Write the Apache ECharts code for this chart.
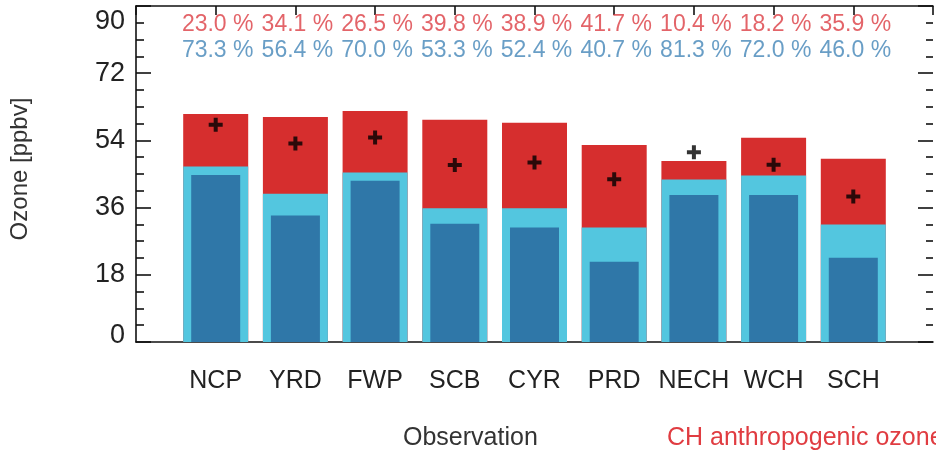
<!DOCTYPE html>
<html>
<head>
<meta charset="utf-8">
<script src="https://cdn.jsdelivr.net/npm/echarts@6/dist/echarts.min.js"></script>
<style>html,body{margin:0;padding:0;background:#fff}#c{width:936px;height:451px}</style>
</head>
<body>
<div id="c"></div>
<script>
// ---- data ----
const categories = ['NCP', 'YRD', 'FWP', 'SCB', 'CYR', 'PRD', 'NECH', 'WCH', 'SCH'];
const totalOzone = [61.1, 60.3, 61.9, 59.5, 58.7, 52.8, 48.5, 54.7, 49.1];      // red bar top
const lightBlue = [47.0, 39.7, 45.4, 35.8, 35.8, 30.7, 43.5, 44.6, 31.5];       // light blue bar top
const darkBlue = [44.7, 33.9, 43.2, 31.7, 30.7, 21.5, 39.4, 39.4, 22.6];        // dark blue bar top
const observation = [58.2, 53.2, 54.8, 47.4, 48.1, 43.6, 50.8, 47.5, 39.0];     // "+" markers
const redPct = [23.0, 34.1, 26.5, 39.8, 38.9, 41.7, 10.4, 18.2, 35.9];
const bluePct = [73.3, 56.4, 70.0, 53.3, 52.4, 40.7, 81.3, 72.0, 46.0];
const yTicks = [0, 18, 36, 54, 72, 90];

// ---- chart ----
const chart = echarts.init(document.getElementById('c'), null, {renderer: 'canvas'});
const FONT = 'Liberation Sans, Arial, Helvetica, sans-serif';
const NARROW = 'Liberation Sans Narrow, Arial Narrow, Liberation Sans, sans-serif';
const RED_ROW = 85.0, BLUE_ROW = 78.0;
const xs = categories.map((c, i) => i + 1);
const pair = arr => arr.map((v, i) => [xs[i], v]);
const plus = 'path://M5,0L9,0L9,5L14,5L14,9L9,9L9,14L5,14L5,9L0,9L0,5L5,5Z';

const axisLineStyle = {color: '#111', width: 1.6};
chart.setOption({
  animation: false,
  backgroundColor: '#fff',
  grid: {left: 135, right: 0, top: 6, bottom: 109, containLabel: false},
  xAxis: [
    {
      type: 'value', position: 'bottom', min: 0, max: 10, interval: 1,
      axisLine: {show: true, lineStyle: axisLineStyle},
      axisTick: {show: false},
      splitLine: {show: false},
      axisLabel: {
        margin: 27, color: '#222', fontSize: 25, fontFamily: FONT,
        formatter: v => (v >= 1 && v <= categories.length) ? categories[v - 1] : ''
      }
    },
    {
      type: 'value', position: 'top', min: 0, max: 10, interval: 1,
      axisLine: {show: true, onZero: false, lineStyle: axisLineStyle},
      axisTick: {show: true, inside: true, length: 9, lineStyle: {color: '#111', width: 1.6}},
      axisLabel: {show: false},
      splitLine: {show: false}
    }
  ],
  yAxis: [
    {
      type: 'value', position: 'left', min: yTicks[0], max: yTicks[yTicks.length - 1], interval: 18,
      name: 'Ozone [ppbv]', nameLocation: 'middle', nameGap: 104,
      nameTextStyle: {fontSize: 24, color: '#333', fontFamily: FONT, padding: [0, 0, 0, 10]},
      axisLine: {show: true, onZero: false, lineStyle: axisLineStyle},
      axisTick: {show: true, inside: true, length: 15, lineStyle: {color: '#111', width: 1.6}},
      minorTick: {show: true, splitNumber: 4, length: 8, lineStyle: {color: '#111', width: 1.6}},
      splitLine: {show: false},
      axisLabel: {
        margin: 11, color: '#222', fontSize: 27, fontFamily: FONT,
        formatter: v => v === 90 ? '{t|90}' : (v === 0 ? '{b|0}' : String(v)),
        rich: {
          t: {padding: [32, 0, 0, 0], fontSize: 27, fontFamily: FONT, color: '#222'},
          b: {padding: [0, 0, 12, 0], fontSize: 27, fontFamily: FONT, color: '#222'}
        }
      }
    },
    {
      type: 'value', position: 'right', min: 0, max: 90, interval: 18,
      axisLine: {show: false, onZero: false, lineStyle: axisLineStyle},
      axisTick: {show: true, inside: true, length: 15, lineStyle: {color: '#111', width: 1.6}},
      minorTick: {show: true, splitNumber: 4, length: 7, lineStyle: {color: '#111', width: 1.6}},
      splitLine: {show: false},
      axisLabel: {show: false}
    }
  ],
  series: [
    {
      name: 'Total', type: 'bar', xAxisIndex: 0, yAxisIndex: 0,
      barWidth: 65, barGap: '-100%', z: 2,
      itemStyle: {color: '#d62e2e'},
      data: pair(totalOzone)
    },
    {
      name: 'Background', type: 'bar', xAxisIndex: 0, yAxisIndex: 0,
      barWidth: 65, barGap: '-100%', z: 3,
      itemStyle: {color: '#53c6df'},
      data: pair(lightBlue)
    },
    {
      name: 'Dark', type: 'bar', xAxisIndex: 1, yAxisIndex: 0,
      barWidth: 49, z: 4,
      itemStyle: {color: '#2f77a8'},
      data: pair(darkBlue)
    },
    {
      name: 'Observation', type: 'scatter', xAxisIndex: 0, yAxisIndex: 0, z: 6,
      symbol: plus, symbolSize: 14,
      itemStyle: {color: '#000'},
      data: pair(observation)
    },
    {
      name: 'redPct', type: 'scatter', xAxisIndex: 0, yAxisIndex: 0, z: 6, silent: true,
      symbolSize: 1, itemStyle: {color: 'rgba(0,0,0,0)'},
      label: {
        show: true, position: 'inside', offset: [2, 0],
        color: '#dc3d44', fontSize: 23, fontFamily: NARROW,
        formatter: p => redPct[p.dataIndex].toFixed(1) + ' %'
      },
      data: xs.map(x => [x, RED_ROW])
    },
    {
      name: 'bluePct', type: 'scatter', xAxisIndex: 0, yAxisIndex: 0, z: 6, silent: true,
      symbolSize: 1, itemStyle: {color: 'rgba(0,0,0,0)'},
      label: {
        show: true, position: 'inside', offset: [2, 0],
        color: '#4486b8', fontSize: 23, fontFamily: NARROW,
        formatter: p => bluePct[p.dataIndex].toFixed(1) + ' %'
      },
      data: xs.map(x => [x, BLUE_ROW])
    }
  ],
  graphic: [
    {type: 'text', left: 403, top: 426, style: {text: 'Observation', fill: '#333', fontSize: 25, fontFamily: FONT}},
    {type: 'text', left: 667, top: 426, style: {text: 'CH anthropogenic ozone', fill: '#e03c41', fontSize: 25, fontFamily: FONT}}
  ]
});
</script>
</body>
</html>
